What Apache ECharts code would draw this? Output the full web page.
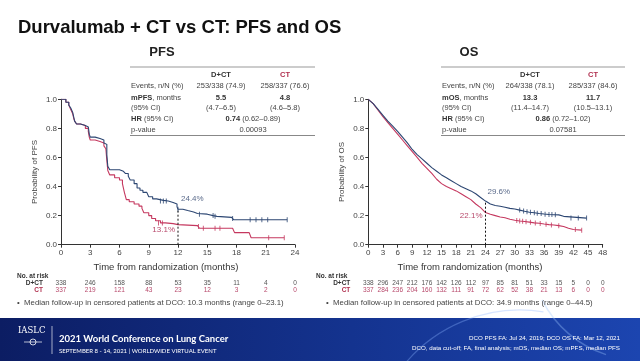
<!DOCTYPE html>
<html><head><meta charset="utf-8">
<script src="https://cdn.jsdelivr.net/npm/echarts@6/dist/echarts.min.js"></script>
<style>html,body{margin:0;padding:0;background:#fff}#c{width:640px;height:361px}</style>
</head><body><div id="c"></div>
<script>
// ---------- data ----------
const pfsTicks = [0, 3, 6, 9, 12, 15, 18, 21, 24];
const osTicks = [0, 3, 6, 9, 12, 15, 18, 21, 24, 27, 30, 33, 36, 39, 42, 45, 48];
const yTicks = [0, 0.2, 0.4, 0.6, 0.8, 1.0];

const pfsDctT = [0, 0.5, 0.8, 1.0, 1.2, 1.3, 1.4, 1.6, 2.0, 2.5, 2.8, 2.9, 3.0, 3.5, 4.0, 4.4, 4.6, 4.7, 4.8, 5.0, 6.0, 6.4, 6.6, 6.9, 7.1, 7.5, 7.8, 8.1, 8.4, 8.8, 9.0, 9.4, 9.8, 10.5, 11.0, 11.5, 11.9, 12.0, 12.5, 13.0, 13.6, 14.0, 15.0, 15.6, 16.0, 17.5, 17.7, 23.2];
const pfsDctS = [1.0, 0.98, 0.96, 0.94, 0.91, 0.88, 0.85, 0.83, 0.82, 0.81, 0.80, 0.76, 0.74, 0.73, 0.72, 0.70, 0.69, 0.62, 0.54, 0.515, 0.505, 0.50, 0.49, 0.47, 0.445, 0.42, 0.39, 0.375, 0.36, 0.35, 0.33, 0.315, 0.305, 0.30, 0.29, 0.28, 0.26, 0.244, 0.235, 0.225, 0.215, 0.21, 0.20, 0.195, 0.188, 0.18, 0.172, 0.172];
const pfsCtT = [0, 0.5, 0.8, 1.0, 1.2, 1.3, 1.4, 1.6, 2.0, 2.5, 2.8, 2.9, 3.0, 3.5, 4.0, 4.4, 4.6, 4.7, 4.8, 5.0, 5.5, 6.0, 6.3, 6.5, 6.7, 7.0, 7.5, 8.0, 8.3, 8.5, 9.0, 9.3, 9.7, 10.2, 10.7, 11.5, 12.0, 14.0, 14.2, 17.6, 17.8, 19.3, 19.5, 22.9];
const pfsCtS = [1.0, 0.98, 0.96, 0.93, 0.90, 0.87, 0.85, 0.83, 0.82, 0.80, 0.78, 0.74, 0.72, 0.71, 0.70, 0.68, 0.66, 0.58, 0.51, 0.48, 0.46, 0.445, 0.42, 0.36, 0.31, 0.295, 0.28, 0.265, 0.25, 0.22, 0.20, 0.18, 0.165, 0.15, 0.145, 0.138, 0.131, 0.125, 0.113, 0.113, 0.083, 0.083, 0.048, 0.048];
const pfsDctCens = [[10.2, 0.30], [10.5, 0.30], [10.8, 0.30], [12.0, 0.244], [14.2, 0.21], [15.6, 0.20], [15.8, 0.195], [17.6, 0.18], [19.4, 0.172], [20.0, 0.172], [20.6, 0.172], [21.2, 0.172], [23.2, 0.172]];
const pfsCtCens = [[10.0, 0.15], [10.4, 0.15], [14.1, 0.125], [14.6, 0.113], [15.8, 0.113], [16.3, 0.113], [21.3, 0.048], [22.9, 0.048]];

const osDctT = [0, 1, 2, 3, 4, 5, 6, 7, 8, 9, 10, 11, 12, 13, 14, 15, 16, 17, 18, 19, 20, 21, 22, 23, 24, 25, 26, 27, 28, 29, 30, 31, 32, 33, 34, 35, 36, 37, 38, 39, 40, 40.3, 44.7];
const osDctS = [1.0, 0.97, 0.93, 0.89, 0.85, 0.815, 0.78, 0.74, 0.70, 0.655, 0.62, 0.59, 0.56, 0.53, 0.505, 0.48, 0.46, 0.44, 0.42, 0.40, 0.385, 0.37, 0.35, 0.325, 0.30, 0.28, 0.27, 0.265, 0.258, 0.25, 0.245, 0.238, 0.23, 0.223, 0.22, 0.215, 0.211, 0.208, 0.206, 0.205, 0.195, 0.183, 0.183];
const osCtT = [0, 1, 2, 3, 4, 5, 6, 7, 8, 9, 10, 11, 12, 13, 14, 15, 16, 17, 18, 19, 20, 21, 22, 23, 24, 25, 26, 27, 28, 29, 30, 31, 32, 33, 34, 35, 36, 37, 38, 39, 40, 41, 42, 43.7];
const osCtS = [1.0, 0.97, 0.925, 0.88, 0.84, 0.80, 0.76, 0.72, 0.68, 0.64, 0.60, 0.56, 0.525, 0.49, 0.45, 0.42, 0.40, 0.385, 0.37, 0.35, 0.33, 0.31, 0.28, 0.255, 0.221, 0.21, 0.20, 0.19, 0.185, 0.175, 0.168, 0.163, 0.16, 0.155, 0.15, 0.147, 0.142, 0.138, 0.135, 0.131, 0.125, 0.113, 0.105, 0.10];
const osDctCens = [[31, 0.238], [31.8, 0.232], [32.5, 0.226], [33.2, 0.223], [34, 0.22], [34.6, 0.217], [35.4, 0.214], [36.2, 0.21], [37, 0.208], [37.6, 0.207], [38.3, 0.206], [41.5, 0.183], [43, 0.183], [44.7, 0.183]];
const osCtCens = [[30.4, 0.166], [31, 0.163], [31.6, 0.161], [32.3, 0.158], [33.2, 0.154], [34.2, 0.149], [35.2, 0.146], [36.4, 0.141], [37.5, 0.136], [39, 0.131], [42.4, 0.104], [43.7, 0.10]];

const pfsLandmark = [12, 0.244];
const osLandmark = [24, 0.296];
const pfsLandmarkLabels = ['24.4%', '13.1%'];
const osLandmarkLabels = ['29.6%', '22.1%'];

const pfsRiskDct = [338, 246, 158, 88, 53, 35, 11, 4, 0];
const pfsRiskCt = [337, 219, 121, 43, 23, 12, 3, 2, 0];
const osRiskDct = [338, 296, 247, 212, 176, 142, 126, 112, 97, 85, 81, 51, 33, 15, 5, 0, 0];
const osRiskCt = [337, 284, 236, 204, 160, 132, 111, 91, 72, 62, 52, 38, 21, 13, 6, 0, 0];

const pfsTable = {events: ['253/338 (74.9)', '258/337 (76.6)'], med: ['5.5', '4.8'], ci: ['(4.7–6.5)', '(4.6–5.8)'], hr: '0.74', hrci: ' (0.62–0.89)', p: '0.00093'};
const osTable = {events: ['264/338 (78.1)', '285/337 (84.6)'], med: ['13.3', '11.7'], ci: ['(11.4–14.7)', '(10.5–13.1)'], hr: '0.86', hrci: ' (0.72–1.02)', p: '0.07581'};

// ---------- styles ----------
const BLUE = '#2c4672', RED = '#c5385f';
const FONT = '"Liberation Sans", Arial, sans-serif';
const zip = (t, s) => t.map((v, i) => [v, s[i]]);

const chart = echarts.init(document.getElementById('c'), null, {renderer: 'canvas'});

function xAx(idx, max) {
  return {gridIndex: idx, type: 'value', min: 0, max: max, interval: 3,
    axisLine: {show: true, lineStyle: {color: '#333', width: 1}},
    axisTick: {show: true, length: 3, lineStyle: {color: '#333'}},
    axisLabel: {fontSize: 8, color: '#444', fontFamily: FONT, margin: 4},
    splitLine: {show: false}};
}
function yAx(idx) {
  return {gridIndex: idx, type: 'value', min: 0, max: 1, interval: 0.2,
    axisLine: {show: true, lineStyle: {color: '#333', width: 1}},
    axisTick: {show: true, length: 3, lineStyle: {color: '#333'}},
    axisLabel: {fontSize: 8, color: '#444', fontFamily: FONT, margin: 4, formatter: v => v.toFixed(1)},
    splitLine: {show: false}};
}
function km(name, xi, data, color, step) {
  return {name, type: 'line', xAxisIndex: xi, yAxisIndex: xi, data, step: step ? 'end' : false,
    showSymbol: false, symbol: 'none', lineStyle: {color, width: 1.1}, z: 3, silent: true};
}
function cens(xi, data, color) {
  return {type: 'scatter', xAxisIndex: xi, yAxisIndex: xi, data, symbol: 'rect', symbolSize: [1, 5],
    itemStyle: {color}, z: 4, silent: true};
}
function landmark(xi, pt) {
  return {type: 'line', xAxisIndex: xi, yAxisIndex: xi, data: [[pt[0], 0], pt], showSymbol: false, symbol: 'none',
    lineStyle: {color: '#111', width: 1, type: [2, 2]}, z: 5, silent: true};
}

chart.setOption({
  animation: false,
  backgroundColor: '#fff',
  grid: [
    {left: 61, right: 345, top: 99.3, bottom: 116.3},
    {left: 368.3, right: 37.3, top: 99.3, bottom: 116.3}
  ],
  xAxis: [xAx(0, 24), xAx(1, 48)],
  yAxis: [yAx(0), yAx(1)],
  series: [
    km('PFS CT', 0, zip(pfsCtT, pfsCtS), RED, true),
    km('PFS D+CT', 0, zip(pfsDctT, pfsDctS), BLUE, true),
    cens(0, pfsCtCens, RED), cens(0, pfsDctCens, BLUE),
    landmark(0, pfsLandmark),
    km('OS CT', 1, zip(osCtT, osCtS), RED, false),
    km('OS D+CT', 1, zip(osDctT, osDctS), BLUE, false),
    cens(1, osCtCens, RED), cens(1, osDctCens, BLUE),
    landmark(1, osLandmark)
  ]
});

// ---------- overlay text ----------
const g = [];
function txt(x, y, text, o = {}) {
  g.push({type: 'text', x, y, z: 10, silent: true, style: Object.assign({text, fill: '#444', fontSize: 7.5, fontFamily: FONT,
    textAlign: 'left', textVerticalAlign: 'middle'}, o)});
}
function rich(x, y, text, richStyles, o = {}) {
  g.push({type: 'text', x, y, z: 10, silent: true, style: Object.assign({text, rich: richStyles, fill: '#444', fontSize: 7.5, fontFamily: FONT,
    textAlign: 'center', textVerticalAlign: 'middle'}, o)});
}
function hline(x1, x2, y, color = '#888', w = 1) {
  g.push({type: 'line', z: 10, silent: true, shape: {x1, y1: y, x2, y2: y}, style: {stroke: color, lineWidth: w}});
}

// title
txt(18, 28, 'Durvalumab + CT vs CT: PFS and OS', {fill: '#111', fontSize: 18.5, fontWeight: 'bold'});
txt(162, 52, 'PFS', {fill: '#222', fontSize: 13, fontWeight: 'bold', textAlign: 'center'});
txt(469, 52, 'OS', {fill: '#222', fontSize: 13, fontWeight: 'bold', textAlign: 'center'});

function table(x0, x1, c1, c2, cm, tb, medLabel) {
  hline(x0, x1, 67, '#999', 1);
  txt(c1, 75, 'D+CT', {fill: '#333', fontWeight: 'bold', textAlign: 'center'});
  txt(c2, 75, 'CT', {fill: '#b0304f', fontWeight: 'bold', textAlign: 'center'});
  txt(x0 + 1, 86, 'Events, n/N (%)');
  txt(c1, 86, tb.events[0], {textAlign: 'center'});
  txt(c2, 86, tb.events[1], {textAlign: 'center'});
  rich(x0 + 1, 98, '{b|' + medLabel + '}, months', {b: {fontWeight: 'bold', fill: '#333', fontSize: 7.5, fontFamily: FONT}}, {textAlign: 'left'});
  txt(c1, 98, tb.med[0], {textAlign: 'center', fontWeight: 'bold', fill: '#333'});
  txt(c2, 98, tb.med[1], {textAlign: 'center', fontWeight: 'bold', fill: '#333'});
  txt(x0 + 1, 107.5, '(95% CI)');
  txt(c1, 107.5, tb.ci[0], {textAlign: 'center'});
  txt(c2, 107.5, tb.ci[1], {textAlign: 'center'});
  rich(x0 + 1, 118.5, '{b|HR} (95% CI)', {b: {fontWeight: 'bold', fill: '#333', fontSize: 7.5, fontFamily: FONT}}, {textAlign: 'left'});
  rich(cm, 118.5, '{b|' + tb.hr + '}' + tb.hrci, {b: {fontWeight: 'bold', fill: '#333', fontSize: 7.5, fontFamily: FONT}});
  txt(x0 + 1, 130, 'p-value');
  txt(cm, 130, tb.p, {textAlign: 'center'});
  hline(x0, x1, 135.5, '#888', 1);
}
table(130, 315, 221, 285, 253, pfsTable, 'mPFS');
table(441, 625, 530, 593, 563, osTable, 'mOS');

// axis names
txt(166, 267, 'Time from randomization (months)', {fontSize: 9.5, fill: '#333', textAlign: 'center'});
txt(470, 267, 'Time from randomization (months)', {fontSize: 9.5, fill: '#333', textAlign: 'center'});
g.push({type: 'text', x: 35, y: 172, rotation: Math.PI / 2, z: 10, silent: true,
  style: {text: 'Probability of PFS', fill: '#444', fontSize: 8, fontFamily: FONT, textAlign: 'center', textVerticalAlign: 'middle'}});
g.push({type: 'text', x: 342, y: 172, rotation: Math.PI / 2, z: 10, silent: true,
  style: {text: 'Probability of OS', fill: '#444', fontSize: 8, fontFamily: FONT, textAlign: 'center', textVerticalAlign: 'middle'}});

// landmark labels
const pp = (xi, v) => chart.convertToPixel({xAxisIndex: xi, yAxisIndex: xi}, v);
let p = pp(0, [pfsLandmark[0], 0.27]);
txt(p[0] + 3, p[1] - 7, pfsLandmarkLabels[0], {fill: '#5b6b8b', fontSize: 8});
p = pp(0, [pfsLandmark[0], 0.131]);
txt(p[0] - 3, p[1] + 4, pfsLandmarkLabels[1], {fill: '#b84a6c', fontSize: 8, textAlign: 'right'});
p = pp(1, [osLandmark[0], 0.296]);
txt(p[0] + 2, p[1] - 10, osLandmarkLabels[0], {fill: '#5b6b8b', fontSize: 8});
p = pp(1, [osLandmark[0], 0.221]);
txt(p[0] - 3, p[1] + 3, osLandmarkLabels[1], {fill: '#b84a6c', fontSize: 8, textAlign: 'right'});

// risk tables
function risk(xi, ticks, dct, ct, x0) {
  txt(x0, 276, 'No. at risk', {fontSize: 6.5, fontWeight: 'bold', fill: '#333'});
  const xl = pp(xi, [0, 0])[0] - 18;
  txt(xl, 283, 'D+CT', {fontSize: 6.5, fontWeight: 'bold', fill: '#333', textAlign: 'right'});
  txt(xl, 290, 'CT', {fontSize: 6.5, fontWeight: 'bold', fill: '#b0304f', textAlign: 'right'});
  ticks.forEach((t, i) => {
    const x = pp(xi, [t, 0])[0];
    txt(x, 283, String(dct[i]), {fontSize: 6.5, fill: '#555', textAlign: 'center'});
    txt(x, 290, String(ct[i]), {fontSize: 6.5, fill: '#b84a6c', textAlign: 'center'});
  });
}
risk(0, pfsTicks, pfsRiskDct, pfsRiskCt, 17);
risk(1, osTicks, osRiskDct, osRiskCt, 316);
txt(17, 303, '•  Median follow-up in censored patients at DCO: 10.3 months (range 0–23.1)', {fontSize: 7.8, fill: '#444'});
txt(326, 303, '•  Median follow-up in censored patients at DCO: 34.9 months (range 0–44.5)', {fontSize: 7.8, fill: '#444'});

// footer
g.push({type: 'rect', z: 8, silent: true, shape: {x: 0, y: 318, width: 640, height: 43},
  style: {fill: new echarts.graphic.LinearGradient(0, 0, 1, 0, [{offset: 0, color: '#0c1d63'}, {offset: 0.55, color: '#14338f'}, {offset: 1, color: '#1c45b0'}])}});
g.push({type: 'arc', z: 9, silent: true, shape: {cx: 520, cy: 460, r: 150, startAngle: Math.PI * 1.2, endAngle: Math.PI * 1.55},
  style: {stroke: 'rgba(140,180,255,0.35)', lineWidth: 1.2, fill: null}});
g.push({type: 'arc', z: 9, silent: true, shape: {cx: 640, cy: 250, r: 110, startAngle: Math.PI * 0.6, endAngle: Math.PI * 0.85},
  style: {stroke: 'rgba(160,200,255,0.35)', lineWidth: 1.5, fill: null}});
txt(18, 331, 'IASLC', {fill: '#fff', fontSize: 8.5, fontFamily: '"DejaVu Serif", serif'});
hline(24, 42, 342, 'rgba(255,255,255,0.7)', 1);
g.push({type: 'circle', z: 10, silent: true, shape: {cx: 33, cy: 342, r: 3}, style: {stroke: '#fff', fill: null, lineWidth: 0.8}});
g.push({type: 'line', z: 10, silent: true, shape: {x1: 52, y1: 326, x2: 52, y2: 354}, style: {stroke: 'rgba(255,255,255,0.8)', lineWidth: 0.8}});
txt(59, 339, '2021 World Conference on Lung Cancer', {fill: '#fff', fontSize: 9.5, fontWeight: 'bold', fontFamily: 'Lato, "Open Sans", sans-serif'});
txt(59, 351, 'SEPTEMBER 8 - 14, 2021 | WORLDWIDE VIRTUAL EVENT', {fill: '#fff', fontSize: 6, fontFamily: 'Lato, "Open Sans", sans-serif'});
txt(620, 338, 'DCO PFS FA: Jul 24, 2019; DCO OS FA: Mar 12, 2021', {fill: '#fff', fontSize: 6.2, textAlign: 'right'});
txt(620, 348, 'DCO, data cut-off; FA, final analysis; mOS, median OS; mPFS, median PFS', {fill: '#fff', fontSize: 6.2, textAlign: 'right'});

chart.setOption({graphic: {elements: g}});
</script></body></html>
